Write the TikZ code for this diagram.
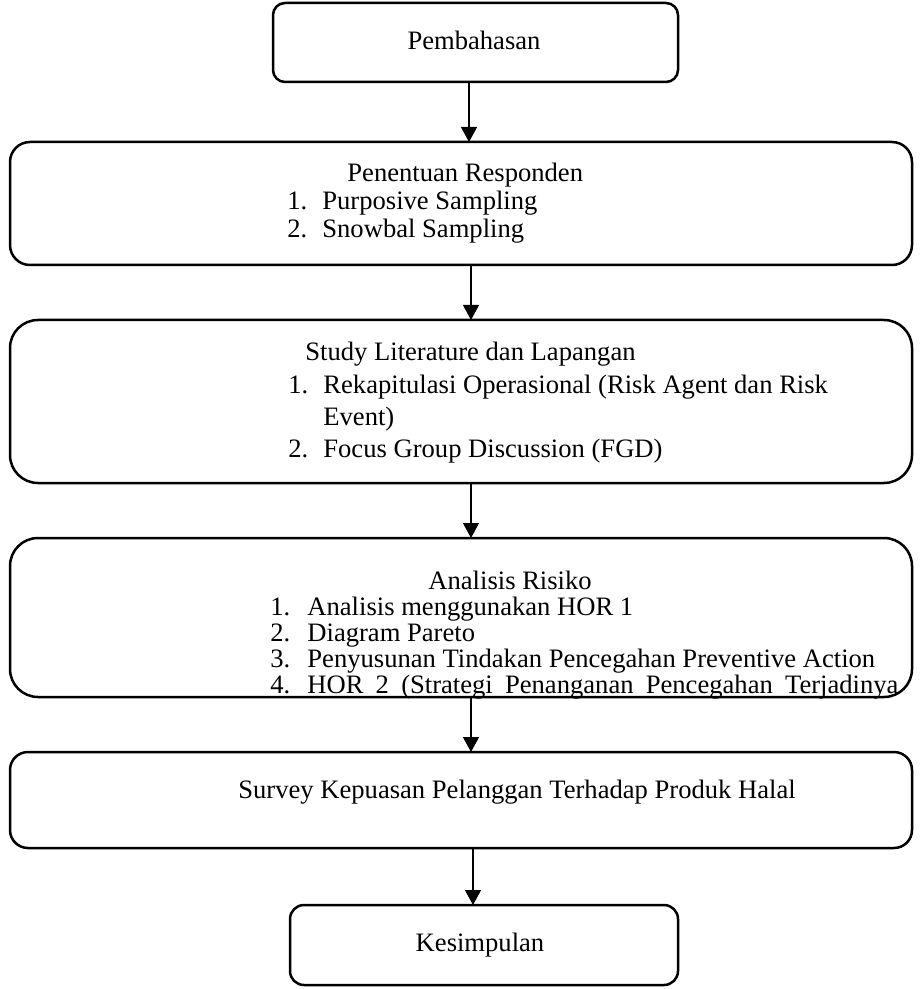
\documentclass[tikz,border=0pt]{standalone}
\usepackage{fontspec}
\setmainfont{Liberation Serif}
\usetikzlibrary{arrows.meta}
\begin{document}
\begin{tikzpicture}[x=0.5pt,y=-0.5pt,
  box/.style={draw, line width=1.25pt, inner sep=0pt, outer sep=0pt},
  txt/.style={inner sep=0pt, anchor=base west, font=\fontsize{13.3}{14}\selectfont},
  ctxt/.style={inner sep=0pt, anchor=base, font=\fontsize{13.3}{14}\selectfont},
  arr/.style={line width=0.65pt, -{Triangle[width=8pt,length=7.5pt]}}]
\useasboundingbox (0,0) rectangle (921,989);
% boxes
\node[box, rounded corners=6pt, minimum width=202.5pt, minimum height=39.5pt] (b1) at (475.5,42.5) {};
\node[box, rounded corners=10pt, minimum width=451pt, minimum height=61.5pt] (b2) at (461,203.5) {};
\node[box, rounded corners=14pt, minimum width=451pt, minimum height=81.5pt] (b3) at (461,401.5) {};
\node[box, rounded corners=14pt, minimum width=451pt, minimum height=79.5pt] (b4) at (461,617.5) {};
\node[box, rounded corners=9pt, minimum width=451pt, minimum height=48pt] (b5) at (461,800) {};
\node[box, rounded corners=7pt, minimum width=194pt, minimum height=40pt] (b6) at (484,945) {};
% texts
\node[ctxt] (t1) at (474,50) {Pembahasan};
\node[txt] (t2) at (347,182) {Penentuan Responden};
\node[txt] (t2n1) at (287,210) {1.};
\node[txt] (t2a) at (322,210) {Purposive Sampling};
\node[txt] (t2n2) at (287,238) {2.};
\node[txt] (t2b) at (322,238) {Snowbal Sampling};
\node[txt] (t3) at (305,360) {Study Literature dan Lapangan};
\node[txt] (t3n1) at (288,393) {1.};
\node[txt] (t3a) at (323,393) {Rekapitulasi Operasional (Risk Agent dan Risk};
\node[txt] (t3a2) at (323,425) {Event)};
\node[txt] (t3n2) at (288,457) {2.};
\node[txt] (t3b) at (323,457) {Focus Group Discussion (FGD)};
\node[txt] (t4) at (428,589) {Analisis Risiko};
\node[txt] (t4n1) at (270,615) {1.};
\node[txt] (t4a) at (307,615) {Analisis menggunakan HOR 1};
\node[txt] (t4n2) at (270,641) {2.};
\node[txt] (t4b) at (307,641) {Diagram Pareto};
\node[txt] (t4n3) at (270,667) {3.};
\node[txt] (t4c) at (307,667) {Penyusunan Tindakan Pencegahan Preventive Action};
\node[txt] (t4n4) at (270,693) {4.};
\node[txt] (t4d) at (307,693) {\makebox[295.5pt][s]{HOR 2 (Strategi Penanganan Pencegahan Terjadinya}};
\node[txt] (t5) at (238,798) {Survey Kepuasan Pelanggan Terhadap Produk Halal};
\node[ctxt] (t6) at (480,951) {Kesimpulan};
% connectors
\coordinate (x1) at (469,0);
\coordinate (x2) at (471,0);
\coordinate (x3) at (471,0);
\coordinate (x4) at (471,0);
\coordinate (x5) at (473,0);
\draw[arr] (b1.south -| x1) -- (b2.north -| x1);
\draw[arr] (b2.south -| x2) -- (b3.north -| x2);
\draw[arr] (b3.south -| x3) -- (b4.north -| x3);
\draw[arr] (b4.south -| x4) -- (b5.north -| x4);
\draw[arr] (b5.south -| x5) -- (b6.north -| x5);
\end{tikzpicture}
\end{document}
